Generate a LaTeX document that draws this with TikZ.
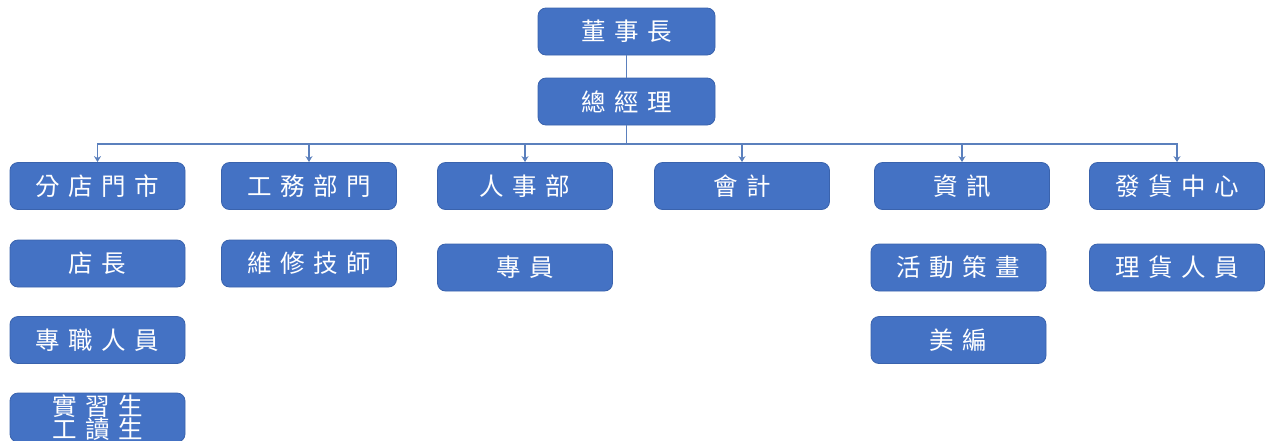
\documentclass[tikz,border=0pt]{standalone}
\usepackage{fontspec}
\newfontfamily\cjk[LetterSpace=35]{Noto Sans CJK TC}
\usetikzlibrary{arrows.meta}
\definecolor{boxfill}{HTML}{4472C4}
\definecolor{boxline}{HTML}{3A63AD}
\definecolor{linkc}{HTML}{5B80BD}
\tikzset{
  orgbox/.style={draw=boxline, line width=0.8pt, fill=boxfill, rounded corners=8pt,
    minimum width=175pt, minimum height=47pt, text=white, inner sep=0pt,
    font=\cjk\fontsize{24.5}{23.5}\selectfont, align=center},
  link/.style={draw=linkc, line width=1.1pt},
  arr/.style={link, -{Stealth[length=6pt,width=7pt]}}
}
\begin{document}
\begin{tikzpicture}[x=1pt,y=-1pt]
\useasboundingbox (0,0) rectangle (1273,440);
\node[orgbox, minimum width=177pt] (ceo) at (626.5,31.5) {董事長};
\node[orgbox, minimum width=177pt] (gm) at (626.5,101.5) {總經理};
\node[orgbox] (b1) at (97.5,186) {分店門市};
\node[orgbox] (b2) at (309,186) {工務部門};
\node[orgbox] (b3) at (525,186) {人事部};
\node[orgbox] (b4) at (742,186) {會計};
\node[orgbox] (b5) at (962,186) {資訊};
\node[orgbox] (b6) at (1177,186) {發貨中心};
\node[orgbox] (c1) at (97.5,263.5) {店長};
\node[orgbox] (c2) at (309,263.5) {維修技師};
\node[orgbox] (c3) at (525,267.5) {專員};
\node[orgbox] (c5) at (958.5,267.5) {活動策畫};
\node[orgbox] (c6) at (1177,267.5) {理貨人員};
\node[orgbox] (d1) at (97.5,340) {專職人員};
\node[orgbox] (d5) at (958.5,340) {美編};
\node[orgbox, minimum height=49pt] (e1) at (97.5,417.5) {實習生\\工讀生};
\coordinate (bus) at (626.5,144);
\draw[link] (ceo.south) -- (gm.north);
\draw[link] (gm.south) -- (bus);
\foreach \n in {b1,b2,b3,b4,b5,b6}{
  \draw[arr] (bus) -| (\n.north);
}
\end{tikzpicture}
\end{document}
